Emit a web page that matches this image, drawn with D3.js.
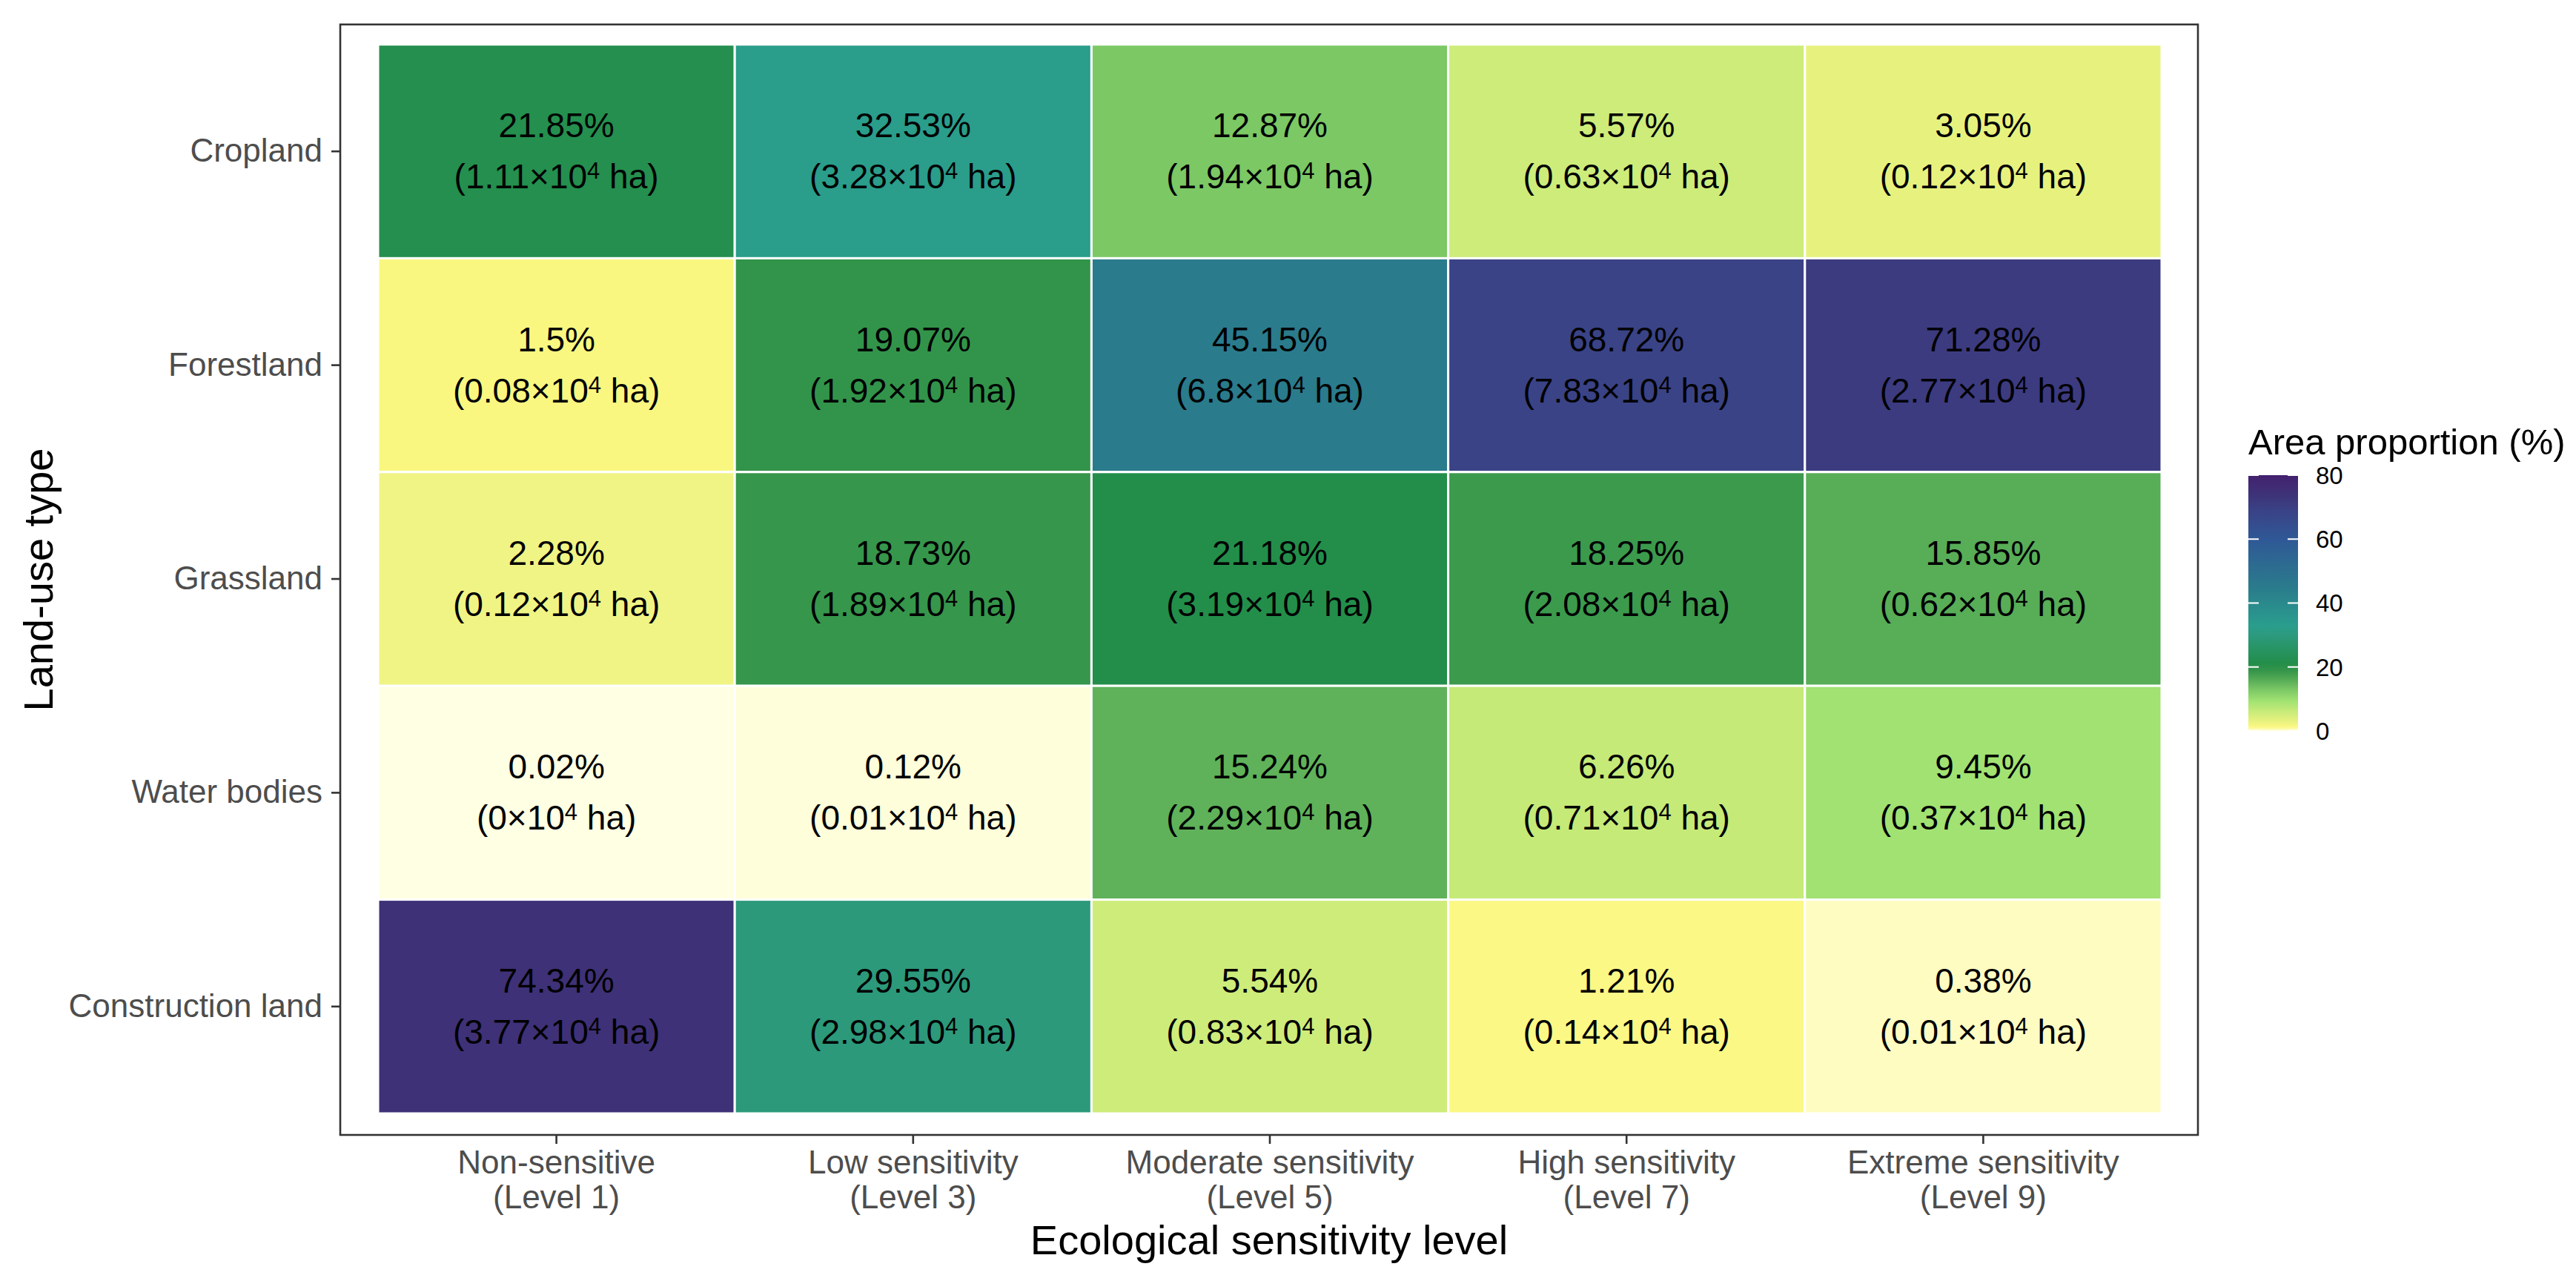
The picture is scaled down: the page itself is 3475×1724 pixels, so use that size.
<!DOCTYPE html>
<html>
<head>
<meta charset="utf-8">
<script src="https://cdn.jsdelivr.net/npm/d3@7"></script>
<style>
  body { margin: 0; background: #fff; }
  text { font-family: 'Liberation Sans', Arial, sans-serif; }
</style>
</head>
<body>
<div id="chart"></div>
<script>
// Land-use types (rows, top to bottom)
var landUse = ['Cropland', 'Forestland', 'Grassland', 'Water bodies', 'Construction land'];

// Sensitivity levels (columns)
var levelNames = ['Non-sensitive', 'Low sensitivity', 'Moderate sensitivity', 'High sensitivity', 'Extreme sensitivity'];
var levelCodes = ['(Level 1)', '(Level 3)', '(Level 5)', '(Level 7)', '(Level 9)'];

// Area proportion (%) by level
var croplandPct = [21.85, 32.53, 12.87, 5.57, 3.05];
var forestlandPct = [1.5, 19.07, 45.15, 68.72, 71.28];
var grasslandPct = [2.28, 18.73, 21.18, 18.25, 15.85];
var waterPct = [0.02, 0.12, 15.24, 6.26, 9.45];
var constructionPct = [74.34, 29.55, 5.54, 1.21, 0.38];

// Area (x10^4 ha) by level
var croplandArea = [1.11, 3.28, 1.94, 0.63, 0.12];
var forestlandArea = [0.08, 1.92, 6.8, 7.83, 2.77];
var grasslandArea = [0.12, 1.89, 3.19, 2.08, 0.62];
var waterArea = [0, 0.01, 2.29, 0.71, 0.37];
var constructionArea = [3.77, 2.98, 0.83, 0.14, 0.01];

// Legend ticks
var legendTicks = [0, 20, 40, 60, 80];

var pctRows = [croplandPct, forestlandPct, grasslandPct, waterPct, constructionPct];
var areaRows = [croplandArea, forestlandArea, grasslandArea, waterArea, constructionArea];

var cells = [];
landUse.forEach(function(lu, i) {
  levelNames.forEach(function(lv, j) {
    cells.push({landUse: lu, level: lv, pct: pctRows[i][j], area: areaRows[i][j]});
  });
});

var chartWidth = 3475;
var chartHeight = 1724;

var svg = d3.select('#chart')
    .append('svg')
    .attr('width', chartWidth)
    .attr('height', chartHeight);

svg.append('rect')
    .attr('width', chartWidth)
    .attr('height', chartHeight)
    .attr('fill', '#fff');

// Colour scale (custom gradient, yellow -> green -> teal -> purple)
var colour = d3.scaleLinear()
    .domain([0, 0.4, 1.3, 2.3, 3, 5.5, 9.5, 13, 15.5, 19, 21.2, 30, 33, 45, 60, 69, 74, 80])
    .range(['#ffffe5', '#fffcc0', '#fbf87f', '#f0f484', '#e8f27e', '#ceec7a', '#a0e272',
            '#7ac765', '#5cb058', '#33944a', '#238e4a', '#2c9a7e', '#2a9d8d', '#2a7b8c',
            '#2f5896', '#3a4286', '#3e3278', '#43216e'])
    .clamp(true);

// Scales
var scaleX = d3.scaleBand()
    .domain(levelNames)
    .range([510, 2916]);

var scaleY = d3.scaleBand()
    .domain(landUse)
    .range([60, 1502]);

var panel = {left: 459, right: 2965, top: 33, bottom: 1531};

// Tiles
svg.selectAll('rect.tile')
    .data(cells)
    .enter()
    .append('rect')
    .attr('class', 'tile')
    .attr('x', function(d) { return scaleX(d.level); })
    .attr('y', function(d) { return scaleY(d.landUse); })
    .attr('width', scaleX.bandwidth())
    .attr('height', scaleY.bandwidth())
    .attr('fill', function(d) { return colour(d.pct); })
    .attr('stroke', '#fff')
    .attr('stroke-width', 3);

// Cell labels
var labels = svg.selectAll('g.cell-label')
    .data(cells)
    .enter()
    .append('g')
    .attr('class', 'cell-label')
    .attr('transform', function(d) {
      return 'translate(' + (scaleX(d.level) + scaleX.bandwidth() / 2) + ',' +
          (scaleY(d.landUse) + scaleY.bandwidth() / 2) + ')';
    });

labels.append('text')
    .attr('y', -19)
    .attr('text-anchor', 'middle')
    .attr('font-size', 46)
    .attr('fill', '#000')
    .text(function(d) { return d.pct + '%'; });

var line2 = labels.append('text')
    .attr('y', 50)
    .attr('text-anchor', 'middle')
    .attr('font-size', 46)
    .attr('fill', '#000');
line2.append('tspan').text(function(d) { return '(' + d.area + '×10'; });
line2.append('tspan').attr('font-size', 31).attr('dy', -13).text('4');
line2.append('tspan').attr('dy', 13).text(' ha)');

// Panel border
svg.append('rect')
    .attr('x', panel.left)
    .attr('y', panel.top)
    .attr('width', panel.right - panel.left)
    .attr('height', panel.bottom - panel.top)
    .attr('fill', 'none')
    .attr('stroke', '#333')
    .attr('stroke-width', 2.6);

// X axis
var xAxis = svg.append('g')
    .attr('transform', 'translate(0,' + panel.bottom + ')')
    .call(d3.axisBottom(scaleX).tickSize(12).tickSizeOuter(0));
xAxis.select('.domain').remove();
xAxis.selectAll('line').attr('stroke', '#333').attr('stroke-width', 2.6);
xAxis.selectAll('text').each(function(d, i) {
  var t = d3.select(this).text(null).attr('dy', null).attr('y', null)
      .attr('font-size', 44).attr('fill', '#4d4d4d');
  t.append('tspan').attr('x', 0).attr('y', 52).text(d);
  t.append('tspan').attr('x', 0).attr('y', 99).text(levelCodes[i]);
});

// Y axis
var yAxis = svg.append('g')
    .attr('transform', 'translate(' + panel.left + ',0)')
    .call(d3.axisLeft(scaleY).tickSize(12).tickPadding(12).tickSizeOuter(0));
yAxis.select('.domain').remove();
yAxis.selectAll('line').attr('stroke', '#333').attr('stroke-width', 2.6);
yAxis.selectAll('text')
    .attr('font-size', 44)
    .attr('fill', '#4d4d4d')
    .attr('font-family', "'Liberation Sans', Arial, sans-serif");

// Axis titles
svg.append('text')
    .attr('x', (panel.left + panel.right) / 2)
    .attr('y', 1692)
    .attr('text-anchor', 'middle')
    .attr('font-size', 56)
    .attr('fill', '#000')
    .text('Ecological sensitivity level');

svg.append('text')
    .attr('transform', 'translate(71,' + (panel.top + panel.bottom) / 2 + ') rotate(-90)')
    .attr('text-anchor', 'middle')
    .attr('font-size', 56)
    .attr('fill', '#000')
    .text('Land-use type');

// Legend
var legend = {x: 3033, top: 641, bottom: 986, width: 67};

var scaleL = d3.scaleLinear()
    .domain([0, 80])
    .range([legend.bottom, legend.top]);

var grad = svg.append('defs')
    .append('linearGradient')
    .attr('id', 'legend-grad')
    .attr('x1', 0).attr('y1', 1).attr('x2', 0).attr('y2', 0);

grad.selectAll('stop')
    .data(d3.range(0, 80.01, 0.5))
    .enter()
    .append('stop')
    .attr('offset', function(d) { return d / 80; })
    .attr('stop-color', function(d) { return colour(d); });

svg.append('text')
    .attr('x', legend.x)
    .attr('y', 613)
    .attr('font-size', 49)
    .attr('fill', '#000')
    .text('Area proportion (%)');

svg.append('rect')
    .attr('x', legend.x)
    .attr('y', legend.top)
    .attr('width', legend.width)
    .attr('height', legend.bottom - legend.top)
    .attr('fill', 'url(#legend-grad)');

var lTicks = svg.selectAll('g.legend-tick')
    .data(legendTicks)
    .enter()
    .append('g')
    .attr('class', 'legend-tick')
    .attr('transform', function(d) { return 'translate(0,' + scaleL(d) + ')'; });

lTicks.append('line')
    .attr('x1', legend.x).attr('x2', legend.x + 14)
    .attr('stroke', '#fff').attr('stroke-width', 2);
lTicks.append('line')
    .attr('x1', legend.x + legend.width - 14).attr('x2', legend.x + legend.width)
    .attr('stroke', '#fff').attr('stroke-width', 2);

lTicks.append('text')
    .attr('x', 3124)
    .attr('dy', '0.36em')
    .attr('font-size', 33)
    .attr('fill', '#000')
    .text(function(d) { return d; });
</script>
</body>
</html>
